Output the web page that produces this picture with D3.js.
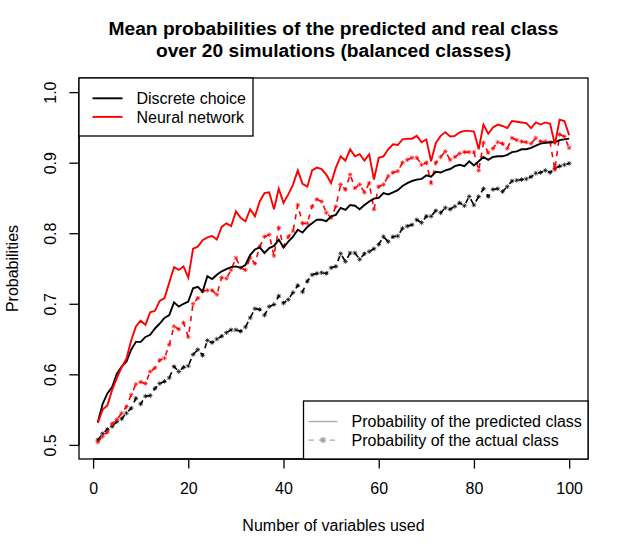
<!DOCTYPE html>
<html>
<head>
<meta charset="utf-8">
<script src="https://cdn.jsdelivr.net/npm/d3@7"></script>
<style>
  body { margin: 0; background: #fff; }
  text { font-family: "Liberation Sans", Arial, Helvetica, sans-serif; fill: #000; }
</style>
</head>
<body>
<div id="chart"></div>
<script>
const nVars = [1,2,3,4,5,6,7,8,9,10,11,12,13,14,15,16,17,18,19,20,21,22,23,24,25,26,27,28,29,30,31,32,33,34,35,36,37,38,39,40,41,42,43,44,45,46,47,48,49,50,51,52,53,54,55,56,57,58,59,60,61,62,63,64,65,66,67,68,69,70,71,72,73,74,75,76,77,78,79,80,81,82,83,84,85,86,87,88,89,90,91,92,93,94,95,96,97,98,99,100];

// discrete choice, probability of the predicted class
const dcPred = [0.532,0.558,0.573,0.582,0.601,0.611,0.618,0.635,0.646,0.646,0.653,0.656,0.665,0.672,0.680,0.684,0.702,0.696,0.700,0.703,
  0.722,0.724,0.717,0.739,0.735,0.741,0.746,0.749,0.752,0.753,0.751,0.755,0.769,0.777,0.780,0.772,0.779,0.782,0.791,0.780,
  0.788,0.795,0.805,0.801,0.809,0.814,0.819,0.819,0.817,0.824,0.826,0.836,0.833,0.840,0.839,0.834,0.840,0.845,0.849,0.850,
  0.857,0.855,0.858,0.861,0.867,0.871,0.874,0.876,0.877,0.882,0.880,0.887,0.886,0.889,0.891,0.895,0.897,0.895,0.902,0.896,
  0.902,0.908,0.904,0.908,0.909,0.909,0.911,0.915,0.916,0.919,0.919,0.921,0.924,0.927,0.928,0.929,0.929,0.932,0.933,0.934];

// neural network, probability of the predicted class
const nnPred = [0.531,0.550,0.556,0.578,0.595,0.610,0.622,0.648,0.668,0.676,0.670,0.688,0.690,0.704,0.708,0.730,0.752,0.748,0.753,0.737,
  0.778,0.781,0.790,0.794,0.796,0.791,0.809,0.814,0.810,0.831,0.822,0.817,0.834,0.824,0.845,0.857,0.858,0.834,0.863,0.843,
  0.855,0.869,0.889,0.870,0.866,0.889,0.893,0.891,0.883,0.871,0.893,0.909,0.903,0.919,0.909,0.912,0.903,0.912,0.876,0.907,
  0.909,0.919,0.926,0.925,0.933,0.934,0.934,0.938,0.929,0.933,0.902,0.928,0.938,0.943,0.937,0.938,0.943,0.945,0.945,0.944,
  0.919,0.954,0.941,0.950,0.954,0.952,0.949,0.959,0.958,0.957,0.956,0.949,0.957,0.954,0.957,0.955,0.926,0.961,0.959,0.939];

// discrete choice, probability of the actual class
const dcAct = [0.507,0.516,0.522,0.526,0.533,0.537,0.545,0.552,0.566,0.558,0.569,0.570,0.580,0.587,0.590,0.595,0.611,0.604,0.610,0.612,
  0.628,0.635,0.627,0.648,0.645,0.650,0.654,0.659,0.663,0.663,0.661,0.667,0.680,0.693,0.692,0.684,0.696,0.699,0.711,0.701,
  0.706,0.716,0.726,0.717,0.732,0.741,0.743,0.744,0.743,0.751,0.753,0.771,0.760,0.772,0.772,0.763,0.771,0.774,0.778,0.784,
  0.795,0.788,0.795,0.796,0.807,0.810,0.812,0.819,0.815,0.824,0.824,0.832,0.829,0.836,0.834,0.838,0.843,0.839,0.852,0.840,
  0.852,0.863,0.852,0.862,0.863,0.859,0.866,0.874,0.875,0.876,0.877,0.880,0.885,0.886,0.889,0.886,0.892,0.895,0.897,0.899];

// neural network, probability of the actual class
const nnAct = [0.504,0.512,0.518,0.530,0.536,0.545,0.554,0.571,0.586,0.589,0.587,0.604,0.609,0.620,0.623,0.642,0.668,0.664,0.673,0.653,
  0.700,0.708,0.718,0.719,0.719,0.713,0.737,0.736,0.748,0.765,0.751,0.748,0.765,0.757,0.781,0.795,0.798,0.768,0.808,0.781,
  0.795,0.803,0.840,0.814,0.814,0.838,0.848,0.845,0.829,0.822,0.838,0.869,0.862,0.883,0.864,0.869,0.858,0.871,0.834,0.866,
  0.869,0.881,0.886,0.888,0.900,0.904,0.907,0.907,0.897,0.900,0.871,0.900,0.908,0.916,0.904,0.908,0.913,0.915,0.915,0.915,
  0.889,0.928,0.914,0.920,0.929,0.927,0.920,0.935,0.932,0.930,0.929,0.927,0.935,0.930,0.930,0.929,0.890,0.940,0.937,0.921];

const xTicks = [0, 20, 40, 60, 80, 100];
const yTicks = [0.5, 0.6, 0.7, 0.8, 0.9, 1.0];

const W = 629, H = 557;
const plot = { left: 79, right: 588, top: 78, bottom: 459 };

const svg = d3.select("#chart")
    .append("svg")
    .attr("width", W)
    .attr("height", H);

// R style 4% padding on x, ylim 0.5..1
const x = d3.scaleLinear().domain([1 - 99 * 0.04, 100 + 99 * 0.04]).range([plot.left, plot.right]);
const y = d3.scaleLinear().domain([0.48, 1.02]).range([plot.bottom, plot.top]);

const line = d3.line()
    .x((d, i) => x(nVars[i]))
    .y(d => y(d));

// star symbol like pch = 8
function star(r) {
    const d = r * 0.72;
    return `M${-r},0H${r}M0,${-r}V${r}M${-d},${-d}L${d},${d}M${-d},${d}L${d},${-d}`;
}

function drawSeries(values, color, dashed) {
    svg.append("path")
        .datum(values)
        .attr("fill", "none")
        .attr("stroke", color)
        .attr("stroke-width", dashed ? 1.6 : 1.9)
        .attr("stroke-dasharray", dashed ? "5.3,5.3" : null)
        .attr("d", line);
    if (dashed) {
        svg.append("g").selectAll("path")
            .data(values)
            .join("path")
            .attr("transform", (d, i) => `translate(${x(nVars[i])},${y(d)})`)
            .attr("d", star(2.3))
            .attr("stroke", color)
            .attr("stroke-opacity", 0.8)
            .attr("stroke-width", 0.9)
            .attr("fill", "none");
    }
}

drawSeries(dcAct, "#000", true);
drawSeries(nnAct, "#ff0000", true);
drawSeries(dcPred, "#000", false);
drawSeries(nnPred, "#ff0000", false);

// box
svg.append("rect")
    .attr("x", plot.left)
    .attr("y", plot.top)
    .attr("width", plot.right - plot.left)
    .attr("height", plot.bottom - plot.top)
    .attr("fill", "none")
    .attr("stroke", "#000")
    .attr("stroke-width", 1.3);

// x axis
const xAxis = svg.append("g")
    .attr("transform", `translate(0,${plot.bottom})`)
    .call(d3.axisBottom(x).tickValues(xTicks).tickSize(9.6).tickPadding(0).tickFormat(d3.format("d")));
xAxis.select(".domain")
    .attr("d", `M${x(0)},0H${x(100)}`)
    .attr("stroke-width", 1.3);
xAxis.selectAll(".tick line").attr("stroke-width", 1.3);
xAxis.selectAll(".tick text")
    .attr("y", 35)
    .attr("dy", null)
    .style("font-size", "16px")
    .style("font-family", "'Liberation Sans', Arial, sans-serif");

// y axis, labels parallel to the axis
const yAxis = svg.append("g")
    .attr("transform", `translate(${plot.left},0)`)
    .call(d3.axisLeft(y).tickValues(yTicks).tickSize(9.6).tickFormat(d3.format(".1f")));
yAxis.select(".domain")
    .attr("d", `M0,${y(0.5)}V${y(1.0)}`)
    .attr("stroke-width", 1.3);
yAxis.selectAll(".tick line").attr("stroke-width", 1.3);
yAxis.selectAll(".tick text")
    .attr("x", null)
    .attr("dy", null)
    .attr("transform", "translate(-23,0) rotate(-90)")
    .attr("text-anchor", "middle")
    .style("font-size", "16px")
    .style("font-family", "'Liberation Sans', Arial, sans-serif");

// axis titles
svg.append("text")
    .attr("x", (plot.left + plot.right) / 2)
    .attr("y", 531)
    .attr("text-anchor", "middle")
    .style("font-size", "16px")
    .text("Number of variables used");

svg.append("text")
    .attr("transform", `translate(18,${(plot.top + plot.bottom) / 2}) rotate(-90)`)
    .attr("text-anchor", "middle")
    .style("font-size", "16px")
    .text("Probabilities");

// title
const titleLines = ["Mean probabilities of the predicted and real class", "over 20 simulations (balanced classes)"];
svg.append("g").selectAll("text")
    .data(titleLines)
    .join("text")
    .attr("x", (plot.left + plot.right) / 2)
    .attr("y", (d, i) => 34.5 + i * 22.8)
    .attr("text-anchor", "middle")
    .style("font-size", "19.2px")
    .style("font-weight", "bold")
    .text(d => d);

// legend: models
const modelLegend = [
    { label: "Discrete choice", color: "#000" },
    { label: "Neural network", color: "#ff0000" }
];
const leg1 = svg.append("g");
leg1.append("rect")
    .attr("x", plot.left).attr("y", plot.top)
    .attr("width", 174).attr("height", 58)
    .attr("fill", "#fff").attr("stroke", "#000").attr("stroke-width", 1.3);
modelLegend.forEach((d, i) => {
    const ly = 98.3 + i * 18.6;
    leg1.append("line")
        .attr("x1", 92.5).attr("x2", 122.5)
        .attr("y1", ly).attr("y2", ly)
        .attr("stroke", d.color).attr("stroke-width", 1.9);
    leg1.append("text")
        .attr("x", 136.5).attr("y", ly)
        .attr("dy", "0.36em")
        .style("font-size", "16px")
        .text(d.label);
});

// legend: probability type
const typeLegend = [
    { label: "Probability of the predicted class", dashed: false },
    { label: "Probability of the actual class", dashed: true }
];
const leg2 = svg.append("g");
leg2.append("rect")
    .attr("x", 303.5).attr("y", 401)
    .attr("width", plot.right - 303.5).attr("height", plot.bottom - 401)
    .attr("fill", "#fff").attr("stroke", "#000").attr("stroke-width", 1.3);
typeLegend.forEach((d, i) => {
    const ly = 421.5 + i * 18.6;
    leg2.append("line")
        .attr("x1", 308.5).attr("x2", 337.5)
        .attr("y1", ly).attr("y2", ly)
        .attr("stroke", "#a8a8a8").attr("stroke-width", 1.3)
        .attr("stroke-dasharray", d.dashed ? "5.3,5.3" : null);
    if (d.dashed) {
        leg2.append("path")
            .attr("transform", `translate(323,${ly})`)
            .attr("d", star(3.2))
            .attr("stroke", "#a8a8a8").attr("stroke-width", 1.2).attr("fill", "none");
    }
    leg2.append("text")
        .attr("x", 351.5).attr("y", ly)
        .attr("dy", "0.36em")
        .style("font-size", "16px")
        .text(d.label);
});
</script>
</body>
</html>
